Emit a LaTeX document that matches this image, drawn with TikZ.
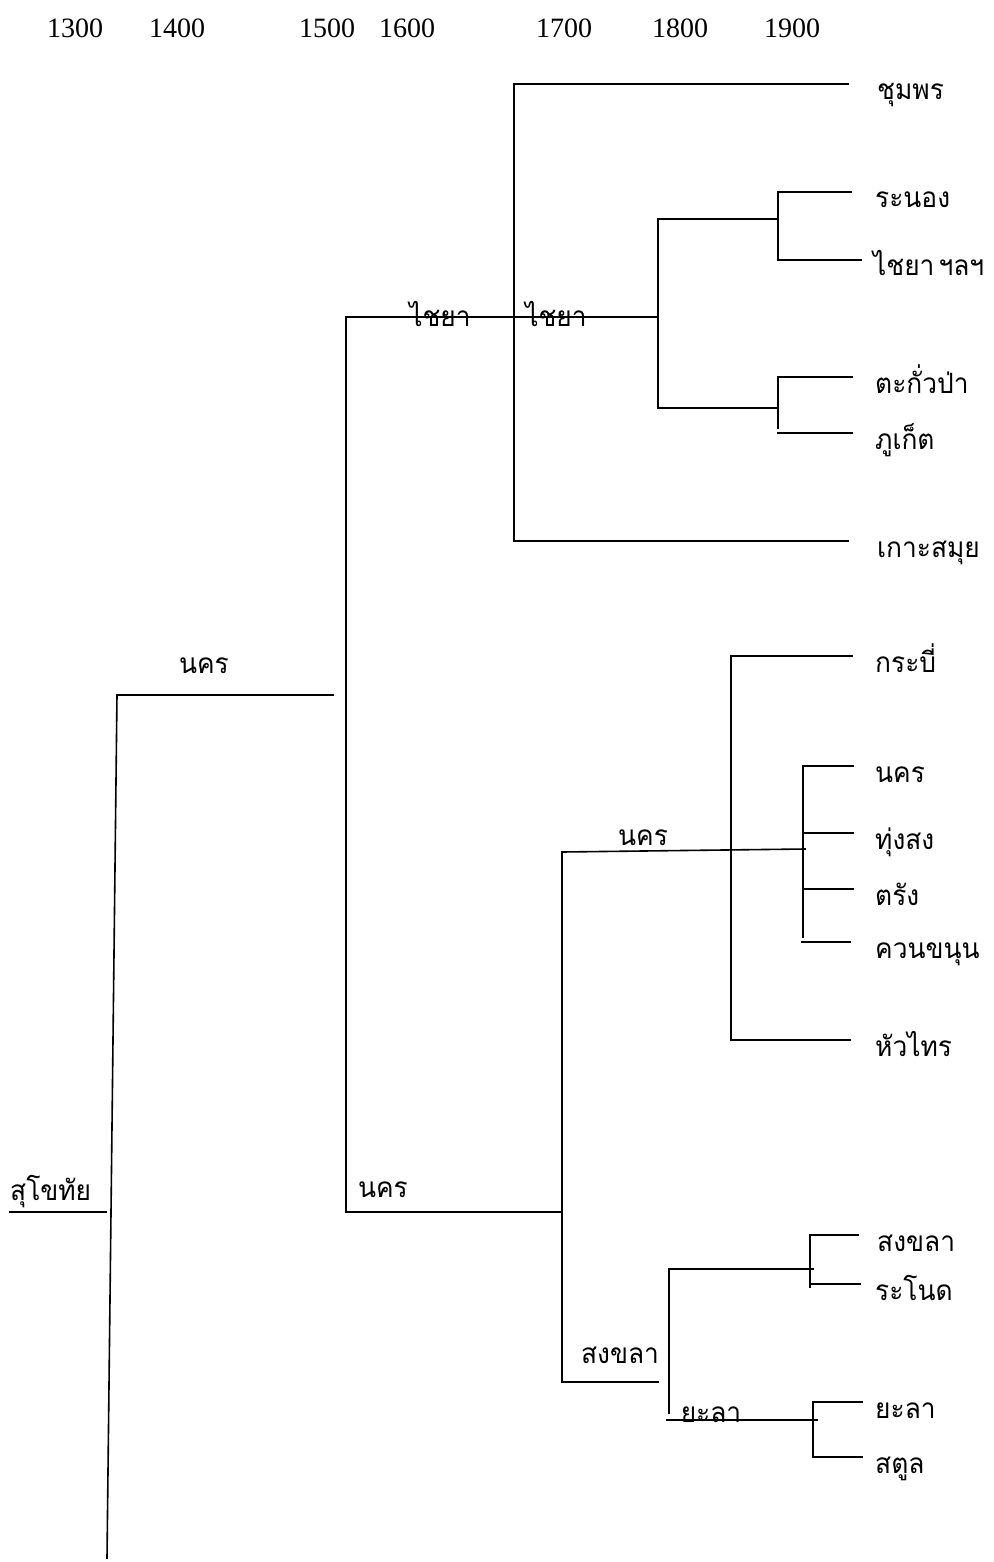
\documentclass[tikz,border=0pt]{standalone}
\usepackage{fontspec}
\setmainfont{Liberation Serif}
\newfontfamily\thaifont[Script=Thai,FakeStretch=0.94]{Loma}

\begin{document}
\begin{tikzpicture}[x=1pt,y=-1pt,
  branch/.style={line width=1.6pt, line cap=rect},
  year/.style={font=\fontsize{28}{30}\selectfont, inner sep=0pt, anchor=base},
  leaf/.style={font=\thaifont\fontsize{28}{32}\selectfont, inner sep=0pt, anchor=base west},
  inlabel/.style={font=\thaifont\fontsize{28}{32}\selectfont, inner sep=0pt, anchor=base}]
\useasboundingbox (0,0) rectangle (993,1562);

% time axis
\node[year] (y1300) at (75,38) {1300};
\node[year] (y1400) at (177,38) {1400};
\node[year] (y1500) at (327,38) {1500};
\node[year] (y1600) at (407,38) {1600};
\node[year] (y1700) at (564,38) {1700};
\node[year] (y1800) at (680,38) {1800};
\node[year] (y1900) at (792,38) {1900};

% root: Sukhothai
\node[leaf] (sukho) at (10,1200) {สุโขทัย};
\coordinate (su0) at (10,1212);
\coordinate (su1) at (106,1212);
\draw[branch] (su0) -- (su1);

\coordinate (r0) at (117,695);
\coordinate (r1) at (107,1558);
\coordinate (r2) at (333,695);
\draw[branch] (r1) -- (r0) -- (r2);
\node[inlabel] (nakhon1) at (204,673) {นคร};

% second level
\coordinate (v2t) at (346,317);
\coordinate (v2b) at (346,1212);
\coordinate (ch1) at (658,317);
\coordinate (nk1) at (562,1212);
\draw[branch] (ch1) -- (v2t) -- (v2b) -- (nk1);
\node[inlabel] (chaiya1) at (440,326) {ไชยา};
\node[inlabel] (chaiya2) at (556,326) {ไชยา};
\node[inlabel] (nakhon2) at (383,1197) {นคร};

% Chaiya branch
\coordinate (cA) at (514,84);
\coordinate (cB) at (514,541);
\coordinate (cAe) at (848,84);
\coordinate (cBe) at (848,541);
\draw[branch] (cAe) -- (cA) -- (cB) -- (cBe);
\node[leaf] (chumphon) at (877,100) {ชุมพร};
\node[leaf] (samui) at (877,557) {เกาะสมุย};

\coordinate (cC) at (658,219);
\coordinate (cD) at (658,408);
\coordinate (cCe) at (778,219);
\coordinate (cDe) at (778,408);
\draw[branch] (cCe) -- (cC) -- (cD) -- (cDe);

\coordinate (rn0) at (778,192);
\coordinate (rn1) at (778,260);
\coordinate (rnA) at (851,192);
\coordinate (rnB) at (861,260);
\draw[branch] (rnA) -- (rn0) -- (rn1) -- (rnB);
\node[leaf] (ranong) at (875,208) {ระนอง};
\node[leaf] (chaiyaetc) at (873,276) {ไชยา\hspace{4pt}ฯลฯ};

\coordinate (tk0) at (778,377);
\coordinate (tk1) at (778,428);
\coordinate (tkA) at (852,377);
\coordinate (tk2) at (778,433);
\coordinate (tkB) at (852,433);
\draw[branch] (tkA) -- (tk0) -- (tk1);
\draw[branch] (tk2) -- (tkB);
\node[leaf] (takuapa) at (875,393) {ตะกั่วป่า};
\node[leaf] (phuket) at (875,449) {ภูเก็ต};

% Nakhon branch
\coordinate (nA) at (562,852);
\coordinate (nB) at (562,1382);
\coordinate (nAe) at (805,849);
\coordinate (nBe) at (658,1382);
\draw[branch] (nAe) -- (nA) -- (nB) -- (nBe);
\node[inlabel] (nakhon3) at (643,845) {นคร};
\node[inlabel] (songkhla1) at (620,1363) {สงขลา};

\coordinate (kb0) at (731,656);
\coordinate (kb1) at (731,1040);
\coordinate (kbA) at (852,656);
\coordinate (kbB) at (850,1040);
\draw[branch] (kbA) -- (kb0) -- (kb1) -- (kbB);
\node[leaf] (krabi) at (875,672) {กระบี่};
\node[leaf] (huasai) at (875,1056) {หัวไทร};

\coordinate (nk0) at (803,766);
\coordinate (nk2) at (803,937);
\coordinate (nkA) at (853,766);
\coordinate (tsA) at (803,833);
\coordinate (tsB) at (853,833);
\coordinate (trA) at (803,889);
\coordinate (trB) at (853,889);
\coordinate (kkA) at (802,942);
\coordinate (kkB) at (850,942);
\draw[branch] (nkA) -- (nk0) -- (nk2);
\draw[branch] (tsA) -- (tsB);
\draw[branch] (trA) -- (trB);
\draw[branch] (kkA) -- (kkB);
\node[leaf] (nakhon4) at (875,782) {นคร};
\node[leaf] (thungsong) at (875,849) {ทุ่งสง};
\node[leaf] (trang) at (875,905) {ตรัง};
\node[leaf] (khuankhanun) at (875,958) {ควนขนุน};

% Songkhla branch
\coordinate (sk0) at (669,1269);
\coordinate (sk1) at (669,1413);
\coordinate (skA) at (813,1269);
\draw[branch] (skA) -- (sk0) -- (sk1);
\coordinate (yl0) at (667,1420);
\coordinate (ylA) at (817,1420);
\draw[branch] (yl0) -- (ylA);
\node[inlabel] (yala1) at (711,1422) {ยะลา};

\coordinate (sg0) at (810,1235);
\coordinate (sg1) at (810,1287);
\coordinate (sgA) at (858,1235);
\coordinate (rdA) at (810,1284);
\coordinate (rdB) at (860,1284);
\draw[branch] (sgA) -- (sg0) -- (sg1);
\draw[branch] (rdA) -- (rdB);
\node[leaf] (songkhla2) at (877,1251) {สงขลา};
\node[leaf] (ranot) at (875,1300) {ระโนด};

\coordinate (ya0) at (813,1402);
\coordinate (ya1) at (813,1457);
\coordinate (yaA) at (862,1402);
\coordinate (stA) at (862,1457);
\draw[branch] (yaA) -- (ya0) -- (ya1) -- (stA);
\node[leaf] (yala2) at (875,1418) {ยะลา};
\node[leaf] (satun) at (875,1473) {สตูล};
\end{tikzpicture}
\end{document}
